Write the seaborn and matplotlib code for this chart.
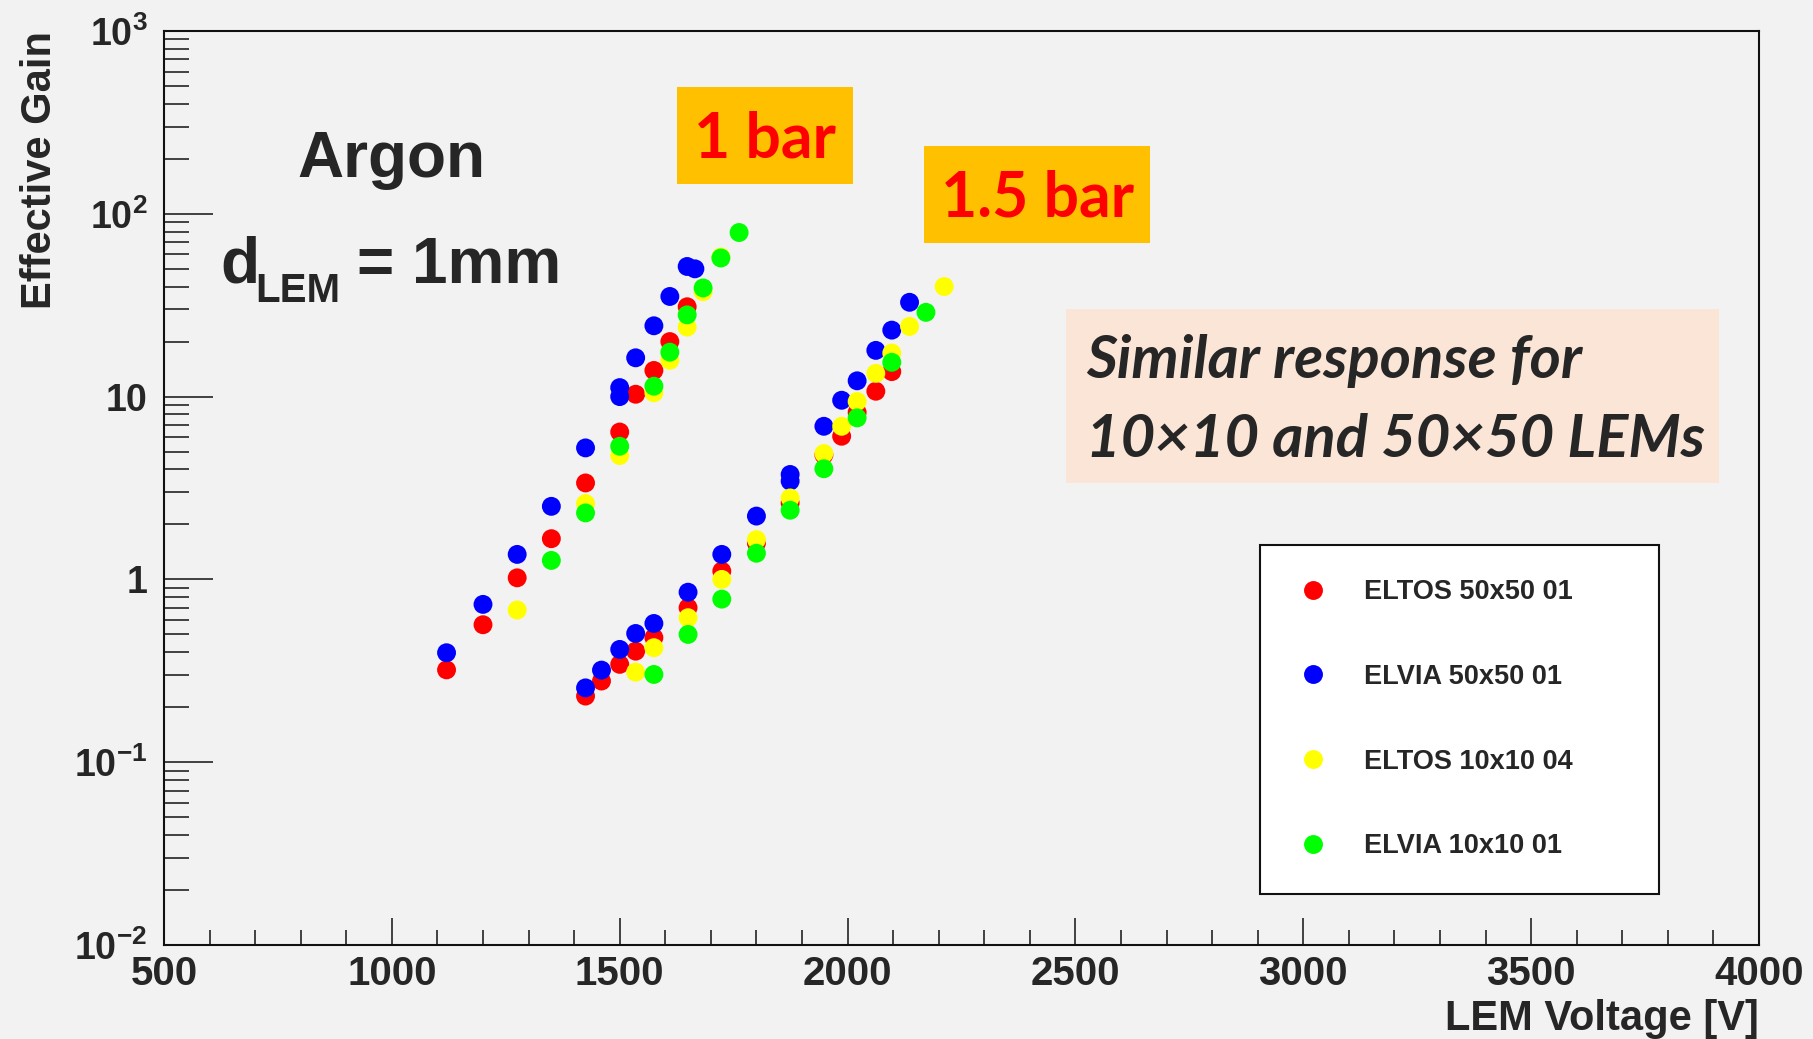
import matplotlib
matplotlib.use("Agg")
import matplotlib.pyplot as plt
import numpy as np
import pandas as pd
import seaborn as sns
from matplotlib.patches import Rectangle
from matplotlib.ticker import FixedLocator, LogLocator, MultipleLocator, NullFormatter

# ---- data ----
series_names = ["ELTOS 50x50 01", "ELVIA 50x50 01", "ELTOS 10x10 04", "ELVIA 10x10 01"]
series_colors = ["#ff0000", "#0000ff", "#ffff00", "#00ff00"]

eltos50_v = [1120, 1200, 1275, 1350, 1425, 1500, 1535, 1575, 1610, 1648,
             1425, 1460, 1500, 1535, 1575, 1650, 1724, 1800, 1874, 1948, 1987, 2021, 2062, 2097]
eltos50_g = [0.32, 0.565, 1.02, 1.67, 3.37, 6.4, 10.3, 13.9, 20.0, 31.0,
             0.23, 0.278, 0.343, 0.405, 0.48, 0.70, 1.11, 1.58, 2.62, 4.8, 6.07, 8.2, 10.7, 13.7]

elvia50_v = [1120, 1200, 1275, 1350, 1425, 1500, 1500, 1535, 1575, 1610, 1648, 1665,
             1425, 1460, 1500, 1535, 1575, 1650, 1724, 1800, 1874, 1874, 1948, 1987, 2021, 2062, 2097, 2136]
elvia50_g = [0.397, 0.73, 1.37, 2.51, 5.24, 11.2, 10.0, 16.3, 24.4, 35.3, 51.5, 50.0,
             0.255, 0.319, 0.414, 0.506, 0.574, 0.851, 1.37, 2.22, 3.75, 3.45, 6.88, 9.55, 12.2, 17.9, 23.1, 32.8]

eltos10_v = [1275, 1425, 1500, 1575, 1610, 1648, 1683, 1722,
             1535, 1575, 1650, 1724, 1800, 1874, 1948, 1987, 2021, 2062, 2097, 2136, 2212]
eltos10_g = [0.68, 2.6, 4.76, 10.5, 15.8, 24.0, 37.5, 58.0,
             0.311, 0.423, 0.617, 1.0, 1.65, 2.79, 4.88, 6.88, 9.4, 13.4, 17.3, 24.2, 40.0]

elvia10_v = [1350, 1425, 1500, 1575, 1610, 1648, 1683, 1722, 1762,
             1575, 1650, 1724, 1800, 1874, 1948, 2021, 2097, 2172]
elvia10_g = [1.27, 2.31, 5.35, 11.4, 17.5, 28.0, 39.3, 57.3, 79.0,
             0.302, 0.50, 0.78, 1.39, 2.39, 4.03, 7.65, 15.4, 28.9]

x_ticks = [500, 1000, 1500, 2000, 2500, 3000, 3500, 4000]
y_ticks = [1e-2, 1e-1, 1, 10, 1e2, 1e3]
y_tick_labels = [r"$\mathbf{10^{-2}}$", r"$\mathbf{10^{-1}}$", "1", "10",
                 r"$\mathbf{10^{2}}$", r"$\mathbf{10^{3}}$"]

# ---- style ----
BG = "#f2f2f2"
sns.set_theme(style="ticks")
plt.rcParams["font.family"] = ["Liberation Sans", "DejaVu Sans"]
plt.rcParams["font.weight"] = "bold"
plt.rcParams["mathtext.fontset"] = "custom"
plt.rcParams["mathtext.rm"] = "Liberation Sans:bold"
plt.rcParams["mathtext.bf"] = "Liberation Sans:bold"
plt.rcParams["axes.unicode_minus"] = False

W, H = 1813, 1039


def fx(px):
    return px / W


def fy(py):
    return 1 - py / H


fig = plt.figure(figsize=(W / 100, H / 100), dpi=100, facecolor=BG)
ax = fig.add_axes([fx(164), fy(945), (1759 - 164) / W, (945 - 31) / H])
ax.set_facecolor(BG)

frames = []
for name, v, g in zip(series_names,
                      [eltos50_v, elvia50_v, eltos10_v, elvia10_v],
                      [eltos50_g, elvia50_g, eltos10_g, elvia10_g]):
    frames.append(pd.DataFrame({"voltage": v, "gain": g, "series": name}))
df = pd.concat(frames, ignore_index=True)

sns.scatterplot(data=df, x="voltage", y="gain", hue="series",
                hue_order=series_names, palette=dict(zip(series_names, series_colors)),
                s=185, linewidth=0, alpha=1, ax=ax, zorder=3)

ax.set_yscale("log")
ax.set_xlim(500, 4000)
ax.set_ylim(1e-2, 1e3)

ax.xaxis.set_major_locator(FixedLocator(x_ticks))
ax.xaxis.set_minor_locator(MultipleLocator(100))
ax.set_yticks(y_ticks, y_tick_labels)
ax.yaxis.set_minor_locator(LogLocator(base=10, subs=np.arange(2, 10)))
ax.yaxis.set_minor_formatter(NullFormatter())

for s in ax.spines.values():
    s.set_visible(True)
    s.set_linewidth(1.5)
    s.set_color("#111111")

ax.tick_params(axis="x", which="major", direction="in", length=19.5, width=1.1,
               color="#111111", labelsize=29, pad=7, top=False)
ax.tick_params(axis="x", which="minor", direction="in", length=10.8, width=1.1,
               color="#111111", top=False)
ax.tick_params(axis="y", which="major", direction="in", length=35, width=1.1,
               color="#111111", labelsize=27, pad=12, right=False)
ax.tick_params(axis="y", which="minor", direction="in", length=18, width=1.1,
               color="#111111", right=False)
for lab in ax.get_xticklabels() + ax.get_yticklabels():
    lab.set_fontweight("bold")

ax.set_xlabel("LEM Voltage [V]", fontsize=30, fontweight="bold", loc="right")
ax.xaxis.set_label_coords(1.0, -0.059)
ax.set_ylabel("Effective Gain", fontsize=30, fontweight="bold", loc="top")
ax.yaxis.set_label_coords(-0.065, 1.0)

# legend
sns.move_legend(ax, "upper left",
                bbox_to_anchor=((1260 - 164) / 1595, (945 - 889) / 914,
                                399 / 1595, (889 - 545) / 914),
                mode="expand", title=None, frameon=True, fancybox=False,
                framealpha=1, facecolor="white", edgecolor="#111111",
                borderpad=1.26, labelspacing=2.17, handlelength=1.43,
                handletextpad=1.16, borderaxespad=0,
                prop={"size": 19.5, "weight": "bold"})
leg = ax.get_legend()
leg.get_frame().set_linewidth(1.5)
leg.set_zorder(5)

# annotations
fig.text(fx(297), fy(176.7), "Argon", fontsize=46, fontweight="bold", va="baseline")
fig.text(fx(220), fy(282.7), "d", fontsize=46, fontweight="bold", va="baseline")
fig.text(fx(255), fy(301.7), "LEM", fontsize=29, fontweight="bold", va="baseline")
fig.text(fx(357), fy(282.7), "= 1mm", fontsize=46, fontweight="bold", va="baseline")

fig.patches.append(Rectangle((fx(677), fy(183.7)), (852.7 - 677) / W, (183.7 - 87) / H,
                             transform=fig.transFigure, facecolor="#ffc000",
                             edgecolor="none", zorder=1))
fig.patches.append(Rectangle((fx(924), fy(242.7)), (1150 - 924) / W, (242.7 - 146) / H,
                             transform=fig.transFigure, facecolor="#ffc000",
                             edgecolor="none", zorder=1))
fig.patches.append(Rectangle((fx(1066), fy(483)), (1719 - 1066) / W, (483 - 309) / H,
                             transform=fig.transFigure, facecolor="#fbe5d6",
                             edgecolor="none", zorder=1))

fig.text(fx(765), fy(157.3), "1 bar", fontsize=45, fontweight="bold", color="#ff0000",
         family="Lato", ha="center", va="baseline")
fig.text(fx(1037.5), fy(216.7), "1.5 bar", fontsize=45, fontweight="bold", color="#ff0000",
         family="Lato", ha="center", va="baseline")
fig.text(fx(1086), fy(378.3), "Similar response for", fontsize=43, fontweight="bold",
         style="italic", family="Lato", va="baseline")
fig.text(fx(1086), fy(456.7), "10\u00d710 and 50\u00d750 LEMs", fontsize=43, fontweight="bold",
         style="italic", family="Lato", va="baseline")

fig.savefig("out.png", dpi=100, facecolor=BG)
